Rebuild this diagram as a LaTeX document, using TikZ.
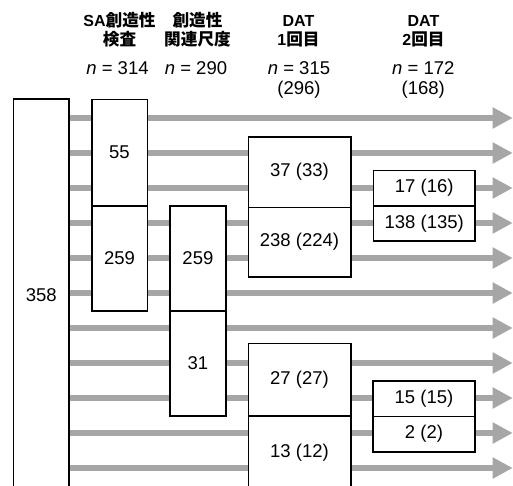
\documentclass[tikz,border=0pt]{standalone}
\usepackage{fontspec}
\setmainfont{Liberation Sans}
\newfontfamily\cjk{Noto Sans CJK JP}[Scale=1.04]
\usetikzlibrary{arrows.meta,backgrounds}
\definecolor{arrowgray}{RGB}{166,166,166}
\begin{document}
\begin{tikzpicture}[x=1pt,y=-1pt,
  box/.style={draw=black, line width=1.6pt, fill=white, inner sep=0pt,
    font=\fontsize{18.5}{20}\selectfont},
  flow/.style={draw=arrowgray, line width=6pt, -{Triangle[length=20pt,width=20pt]}},
  head/.style={anchor=base, inner sep=0pt, font=\fontsize{16}{19}\selectfont\bfseries},
  ntext/.style={anchor=base, inner sep=0pt, font=\fontsize{18.5}{20}\selectfont}]
\clip (0,0) rectangle (513,485);
% headers
\node[head] (h1a) at (119.5,26) {SA{\cjk 創造性}};
\node[head] (h1b) at (119.5,45.5) {\cjk 検査};
\node[head] (h2a) at (197.5,26) {\cjk 創造性};
\node[head] (h2b) at (197.5,45.5) {\cjk 関連尺度};
\node[head] (h3a) at (298.5,26) {DAT};
\node[head] (h3b) at (298.5,45.5) {1{\cjk 回目}};
\node[head] (h4a) at (423.5,26) {DAT};
\node[head] (h4b) at (423.5,45.5) {2{\cjk 回目}};
\node[ntext] (n1) at (117.5,74) {\textit{n} = 314};
\node[ntext] (n2) at (196,74) {\textit{n} = 290};
\node[ntext] (n3) at (299,74) {\textit{n} = 315};
\node[ntext] (n3b) at (299,94) {(296)};
\node[ntext] (n4) at (423.3,74) {\textit{n} = 172};
\node[ntext] (n4b) at (423.3,94) {(168)};
% boxes
\node[box, minimum width=55.7pt, minimum height=391pt] (big) at (41.2,294.7) {358};
\node[box, minimum width=55.6pt, minimum height=106.2pt] (sa1) at (119.5,152.6) {55};
\node[box, minimum width=55.6pt, minimum height=105.3pt] (sa2) at (119.5,258.4) {259};
\node[box, minimum width=55.7pt, minimum height=105.3pt] (cr1) at (197.9,258.4) {259};
\node[box, minimum width=55.7pt, minimum height=105pt] (cr2) at (197.9,363.5) {31};
\node[box, minimum width=102.4pt, minimum height=70.6pt] (d1a) at (299.5,172) {37 (33)};
\node[box, minimum width=102.4pt, minimum height=69.4pt] (d1b) at (299.5,242) {238 (224)};
\node[box, minimum width=102.4pt, minimum height=72.7pt] (d1c) at (299.5,379.7) {27 (27)};
\node[box, minimum width=102.4pt, minimum height=74pt] (d1d) at (299.5,453) {13 (12)};
\node[box, minimum width=101.7pt, minimum height=35.7pt] (d2a) at (424.2,188.2) {17 (16)};
\node[box, minimum width=101.7pt, minimum height=34.7pt] (d2b) at (424.2,223.4) {138 (135)};
\node[box, minimum width=101.7pt, minimum height=35.3pt] (d2c) at (424,398.7) {15 (15)};
\node[box, minimum width=101.7pt, minimum height=35.4pt] (d2d) at (424,434) {2 (2)};
% arrows behind boxes
\begin{scope}[on background layer]
\fill[white] (0,0) rectangle (513,485);
\foreach \k in {0,...,10} {
  \pgfmathsetmacro\yy{118+35*\k}
  \coordinate (e\k) at (512.7,\yy);
  \draw[flow] (big.east |- e\k) -- (e\k);
}
\end{scope}
\end{tikzpicture}
\end{document}
